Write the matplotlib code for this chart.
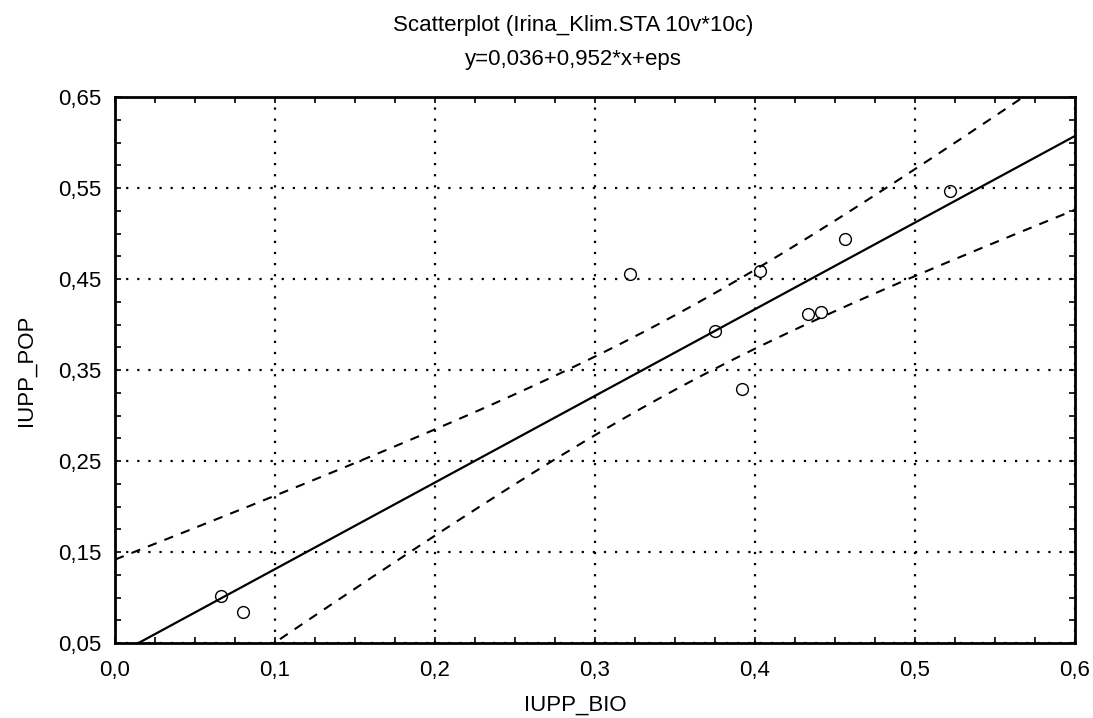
import numpy as np
import matplotlib
matplotlib.use('Agg')
import matplotlib.pyplot as plt
from matplotlib.ticker import MultipleLocator, FuncFormatter

plt.rcParams['font.family'] = ['Liberation Sans', 'DejaVu Sans']

# data
iupp_bio = [0.066, 0.080, 0.322, 0.375, 0.392, 0.403, 0.433, 0.441, 0.456, 0.522]
iupp_pop = [0.102, 0.084, 0.455, 0.393, 0.329, 0.459, 0.412, 0.414, 0.494, 0.547]
b0, b1 = 0.036, 0.952
t_crit = 2.306  # t(0.975, df=8)

x = np.array(iupp_bio)
y = np.array(iupp_pop)
n = len(x)
resid = y - (b0 + b1 * x)
s = np.sqrt(np.sum(resid ** 2) / (n - 2))
sxx = np.sum((x - x.mean()) ** 2)

xx = np.linspace(0.0, 0.6, 200)
yy = b0 + b1 * xx
half = t_crit * s * np.sqrt(1.0 / n + (xx - x.mean()) ** 2 / sxx)

fig = plt.figure(figsize=(10.93, 7.18), dpi=100)
ax = fig.add_axes([115 / 1093, 1 - 643 / 718, 960 / 1093, 546 / 718])

ax.plot(xx, yy, color='black', lw=1.6, zorder=3)
ax.plot(xx, yy + half, color='black', lw=1.5, ls=(0, (4.5, 4)), zorder=3)
ax.plot(xx, yy - half, color='black', lw=1.5, ls=(0, (4.5, 4)), zorder=3)
ax.plot(x, y, 'o', mfc='none', mec='black', mew=1.0, ms=8.5, zorder=4)

ax.set_xlim(0.0, 0.6)
ax.set_ylim(0.05, 0.65)
ax.xaxis.set_major_locator(MultipleLocator(0.1))
ax.xaxis.set_minor_locator(MultipleLocator(0.025))
ax.set_yticks(np.arange(0.05, 0.66, 0.1))
ax.yaxis.set_minor_locator(MultipleLocator(0.025))
ax.xaxis.set_major_formatter(FuncFormatter(lambda v, p: f"{v:.1f}".replace('.', ',')))
ax.yaxis.set_major_formatter(FuncFormatter(lambda v, p: f"{v:.2f}".replace('.', ',')))

ax.grid(True, which='major', color='black', ls=(0, (1, 4)), lw=1.6)
ax.tick_params(which='both', direction='in', top=True, right=True, length=4, width=1.2,
               labelsize=16)
ax.tick_params(axis='x', pad=12)
ax.tick_params(axis='y', pad=10)
for sp in ax.spines.values():
    sp.set_linewidth(2)

fig.text(573 / 1093, 1 - 25 / 718, "Scatterplot (Irina_Klim.STA 10v*10c)", ha='center', va='center', fontsize=16)
fig.text(573 / 1093, 1 - 60 / 718, "y=0,036+0,952*x+eps", ha='center', va='center', fontsize=16)
fig.text(575 / 1093, 1 - 705 / 718, "IUPP_BIO", ha='center', va='center', fontsize=16)
fig.text(26 / 1093, 1 - 370 / 718, "IUPP_POP", ha='center', va='center', rotation=90, fontsize=16)

fig.savefig('out.png', dpi=100)
